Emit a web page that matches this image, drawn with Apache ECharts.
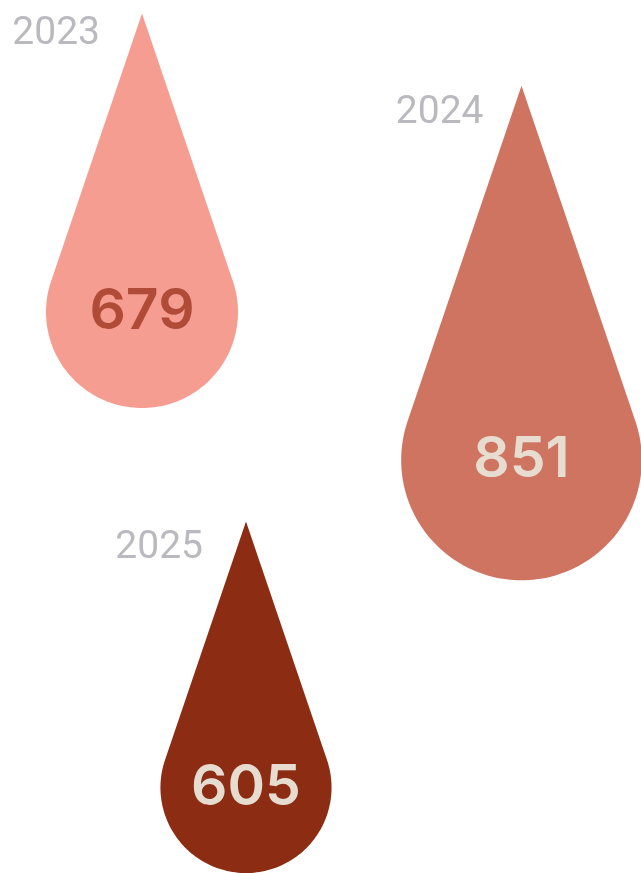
<!DOCTYPE html>
<html>
<head>
<meta charset="utf-8">
<script src="https://cdn.jsdelivr.net/npm/echarts@6/dist/echarts.min.js"></script>
<style>
  html, body { margin: 0; padding: 0; background: #ffffff; }
  #chart { width: 641px; height: 873px; }
</style>
</head>
<body>
<div id="chart"></div>
<script>
// ---- data ----
const years = ['2023', '2024', '2025'];
const values = [679, 851, 605];

// ---- layout (circle centres of each drop on hidden 0..641 / 0..873 axes) ----
const layoutX = [142, 521.5, 246];
const layoutY = [312, 460, 787.5];
const yearLabelDx = [-42, -38, -43];
const yearLabelDy = [21, 27, 27];

// ---- styles ----
const fillColors = ['#f59d91', '#d07462', '#8b2c13'];
const valueColors = ['#b04b38', '#e6ddd0', '#e6ddd0'];
const yearColor = '#b9b9bf';

const RADIUS_PER_UNIT = 0.1414; // drop radius (axis units) per value unit
const TIP_RATIO = 3.11;          // tip distance from circle centre / radius

const chart = echarts.init(document.getElementById('chart'), null, { renderer: 'canvas' });

const data = values.map((v, i) => [layoutX[i], layoutY[i], v, i]);

function renderItem(params, api) {
  const cx0 = api.value(0), cy0 = api.value(1), v = api.value(2), i = api.value(3);
  const c = api.coord([cx0, cy0]);
  const r = api.size([v * RADIUS_PER_UNIT, 0])[0];
  const d = r * TIP_RATIO;
  const alpha = Math.asin(r / d);
  const tip = [c[0], c[1] - d];
  const pts = [tip];
  const N = 120;
  for (let k = 0; k <= N; k++) {
    const t = -alpha + (Math.PI + 2 * alpha) * k / N;
    pts.push([c[0] + r * Math.cos(t), c[1] + r * Math.sin(t)]);
  }
  return {
    type: 'group',
    children: [
      {
        type: 'polygon',
        shape: { points: pts },
        style: { fill: fillColors[i] }
      },
      {
        type: 'text',
        x: c[0],
        y: c[1],
        style: {
          text: String(v),
          fill: valueColors[i],
          fontSize: 57,
          fontWeight: 600,
          fontFamily: 'Inter',
          align: 'center',
          verticalAlign: 'middle'
        }
      },
      {
        type: 'text',
        x: tip[0] + yearLabelDx[i],
        y: tip[1] + yearLabelDy[i],
        style: {
          text: years[i],
          fill: yearColor,
          fontSize: 39,
          fontFamily: 'Roboto',
          align: 'right',
          verticalAlign: 'middle'
        }
      }
    ]
  };
}

chart.setOption({
  animation: false,
  backgroundColor: '#ffffff',
  grid: { left: 0, right: 0, top: 0, bottom: 0 },
  xAxis: { type: 'value', min: 0, max: 641, show: false },
  yAxis: { type: 'value', min: 0, max: 873, inverse: true, show: false },
  series: [{
    type: 'custom',
    renderItem: renderItem,
    data: data,
    clip: false
  }]
});
</script>
</body>
</html>
